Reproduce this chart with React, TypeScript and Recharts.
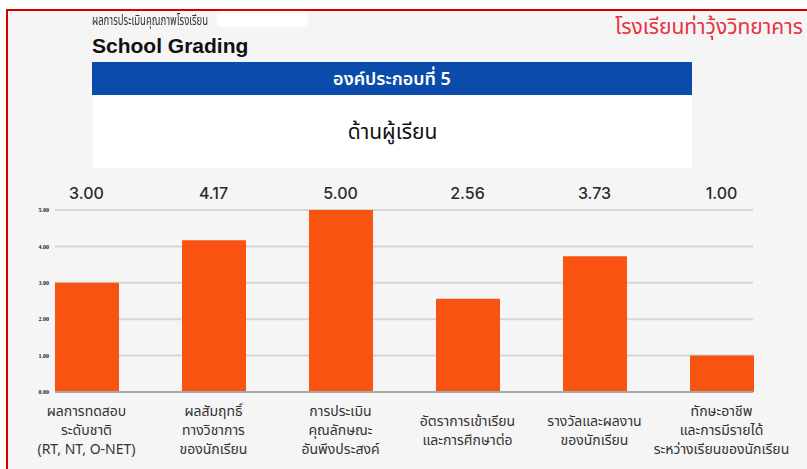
import React from 'react';
import { BarChart, Bar, XAxis, YAxis, CartesianGrid } from 'recharts';

// category labels (lines split by \n) and scores
const categories = [
  'ผลการทดสอบ\nระดับชาติ\n(RT, NT, O-NET)',
  'ผลสัมฤทธิ์\nทางวิชาการ\nของนักเรียน',
  'การประเมิน\nคุณลักษณะ\nอันพึงประสงค์',
  'อัตราการเข้าเรียน\nและการศึกษาต่อ',
  'รางวัลและผลงาน\nของนักเรียน',
  'ทักษะอาชีพ\nและการมีรายได้\nระหว่างเรียนของนักเรียน',
];
const scores = [3.0, 4.17, 5.0, 2.56, 3.73, 1.0];
const yTicks = [0, 1, 2, 3, 4, 5];

const data = categories.map((name, i) => ({ name, score: scores[i] }));

const thaiFont = '"Noto Sans", "Noto Sans Thai", "DejaVu Sans", sans-serif';

const CategoryTick = ({ x, payload }: any) => {
  const lines: string[] = String(payload.value).split('\n');
  const lh = 19;
  const startY = 430 - ((lines.length - 1) * lh) / 2 + 5;
  return (
    <g>
      {lines.map((line, i) => (
        <text
          key={i}
          x={x}
          y={startY + i * lh}
          textAnchor="middle"
          fontSize={14}
          fill="#333"
          fontFamily={thaiFont}
        >
          {line}
        </text>
      ))}
    </g>
  );
};

const ValueTick = ({ x, payload }: any) => {
  const idx = categories.indexOf(payload.value);
  return (
    <text x={x} y={199} textAnchor="middle" fontSize={16} fontWeight={500} fill="#2a2a2a" fontFamily="Inter, sans-serif">
      {scores[idx].toFixed(2)}
    </text>
  );
};

export default function App() {
  return (
    <div style={{ position: 'absolute', left: 0, top: 0, width: 807, height: 469, overflow: 'hidden', background: '#fff' }}>
      {/* red frame */}
      <div
        style={{
          position: 'absolute',
          left: 6,
          top: 9,
          width: 820,
          height: 480,
          borderTop: '2px solid #d40000',
          borderLeft: '2px solid #d40000',
          background: '#f5f5f5',
        }}
      />

      <div
        style={{
          position: 'absolute', left: 92, top: 11, fontSize: 14, lineHeight: '18px', color: '#333',
          fontFamily: thaiFont, whiteSpace: 'nowrap', transform: 'scaleX(0.68)', transformOrigin: 'left center',
        }}
      >
        ผลการประเมินคุณภาพโรงเรียน
      </div>
      {/* redacted smear */}
      <div style={{ position: 'absolute', left: 216, top: 13, width: 92, height: 14, background: '#fff', borderRadius: 6, filter: 'blur(1.5px)' }} />
      <div style={{ position: 'absolute', left: 92, top: 33, fontSize: 21, lineHeight: '26px', fontWeight: 700, color: '#111', fontFamily: '"Liberation Sans", Arial, sans-serif' }}>
        School Grading
      </div>
      <div style={{ position: 'absolute', right: 4, top: 13, fontSize: 21, lineHeight: '26px', color: '#e8313f', fontFamily: thaiFont, whiteSpace: 'nowrap' }}>
        โรงเรียนท่าวุ้งวิทยาคาร
      </div>

      <div
        style={{
          position: 'absolute', left: 92, top: 62, width: 600, height: 33, background: '#0a4bab',
          color: '#fff', fontSize: 18, fontWeight: 600, lineHeight: '33px', textAlign: 'center', fontFamily: thaiFont,
        }}
      >
        องค์ประกอบที่ 5
      </div>
      <div
        style={{
          position: 'absolute', left: 93, top: 95, width: 599, height: 73, background: '#fff',
          color: '#111', fontSize: 21, lineHeight: '73px', textAlign: 'center', fontFamily: thaiFont,
        }}
      >
        ด้านผู้เรียน
      </div>

      <div style={{ position: 'absolute', left: 0, top: 0 }}>
        <BarChart width={807} height={469} data={data} margin={{ top: 180, right: 54, bottom: 0, left: 30 }}>
          <CartesianGrid vertical={false} stroke="#d6d6d6" strokeWidth={2} />
          <XAxis
            xAxisId="top"
            orientation="top"
            dataKey="name"
            height={30}
            padding={{ left: -32, right: -32 }}
            axisLine={false}
            tickLine={false}
            interval={0}
            tick={<ValueTick />}
          />
          <XAxis
            xAxisId="bottom"
            dataKey="name"
            height={77}
            padding={{ left: -32, right: -32 }}
            axisLine={{ stroke: '#a8a8a8', strokeWidth: 2 }}
            tickLine={false}
            interval={0}
            tick={<CategoryTick />}
          />
          <YAxis
            domain={[0, 5]}
            ticks={yTicks}
            width={25}
            axisLine={false}
            tickLine={false}
            tickMargin={0}
            tickFormatter={(v: number) => v.toFixed(2)}
            tick={{ fontSize: 6, fontWeight: 700, fill: '#222' }}
          />
          <Bar xAxisId="bottom" dataKey="score" fill="#f95312" barSize={64} isAnimationActive={false} />
        </BarChart>
      </div>
    </div>
  );
}
